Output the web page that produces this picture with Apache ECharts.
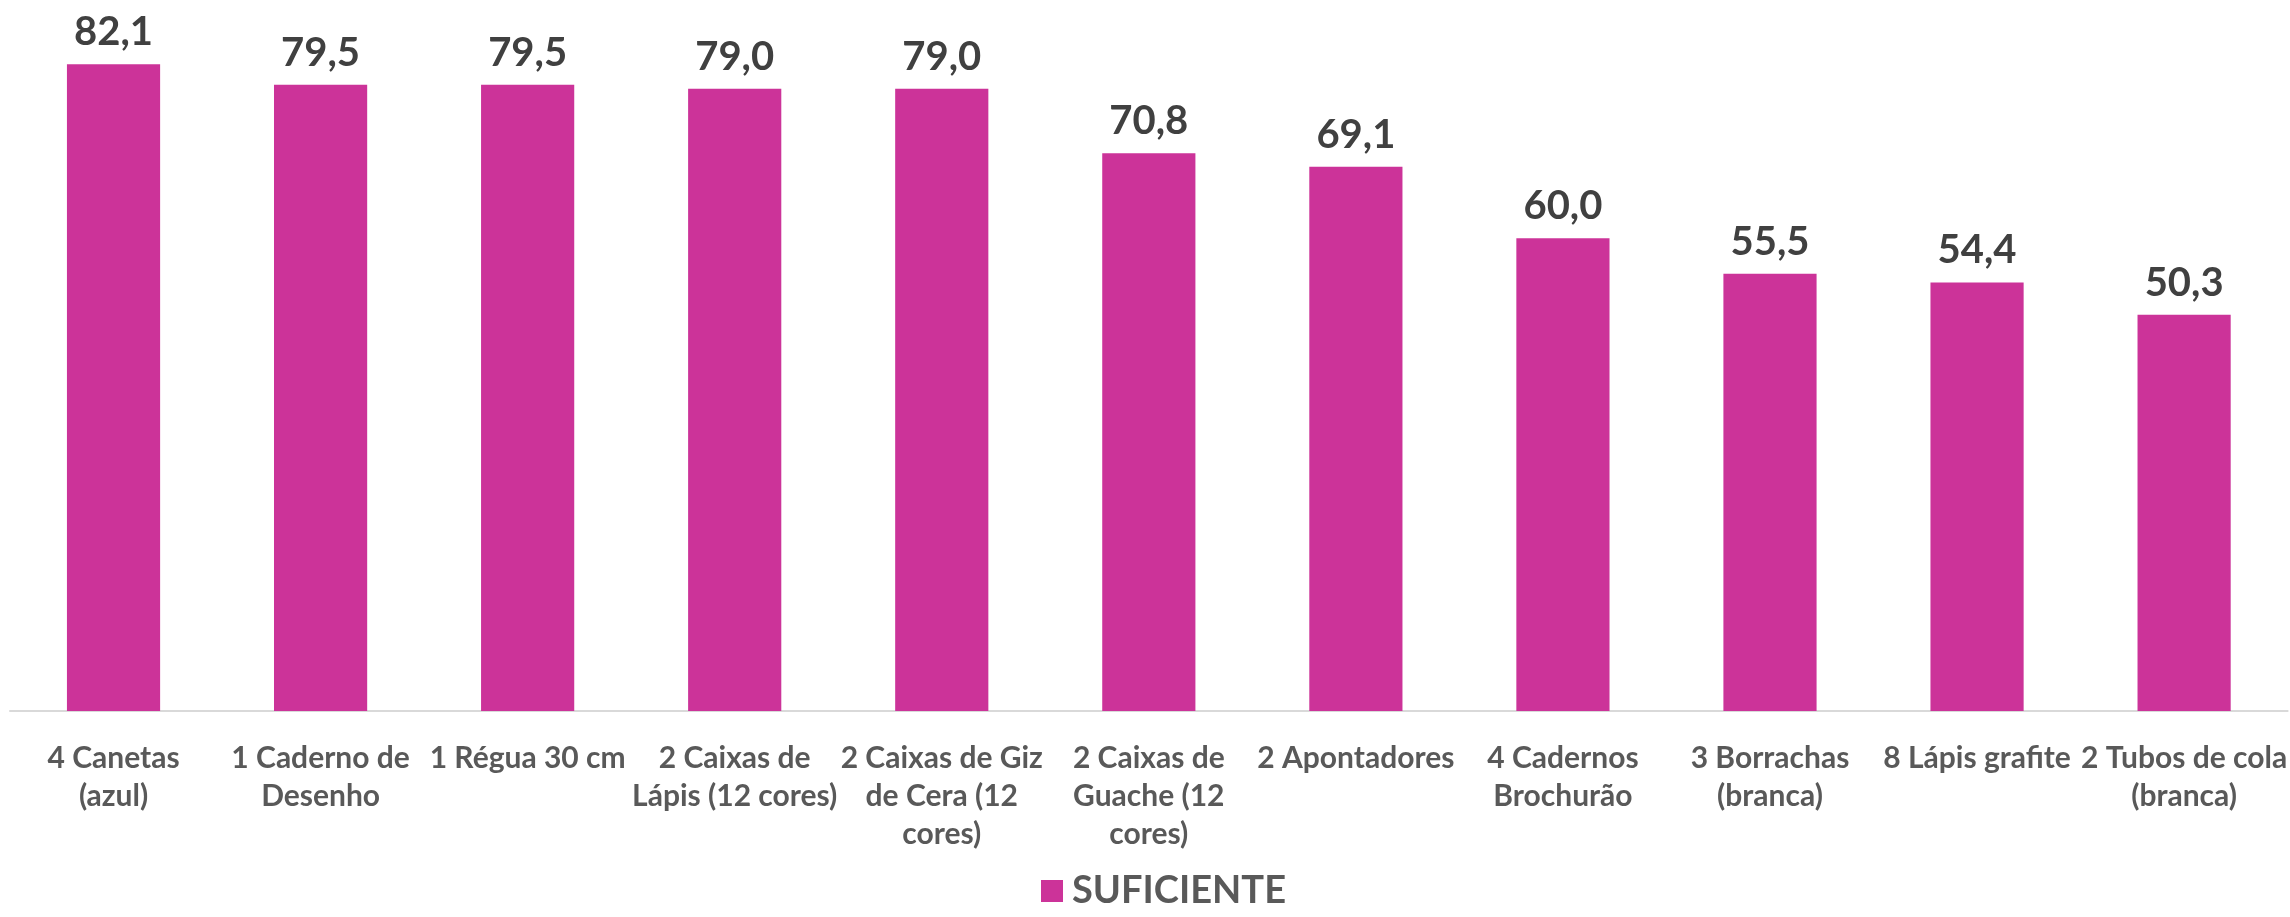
<!DOCTYPE html>
<html>
<head>
<meta charset="utf-8">
<script src="https://cdn.jsdelivr.net/npm/echarts@6/dist/echarts.min.js"></script>
<style>
  html, body { margin: 0; padding: 0; background: #fff; }
  #chart { width: 2290px; height: 917px; }
</style>
</head>
<body>
<div id="chart"></div>
<script>
var categories = [
  '4 Canetas\n(azul)',
  '1 Caderno de\nDesenho',
  '1 Régua 30 cm',
  '2 Caixas de\nLápis (12 cores)',
  '2 Caixas de Giz\nde Cera (12\ncores)',
  '2 Caixas de\nGuache (12\ncores)',
  '2 Apontadores',
  '4 Cadernos\nBrochurão',
  '3 Borrachas\n(branca)',
  '8 Lápis grafite',
  '2 Tubos de cola\n(branca)'
];
var suficiente = [82.1, 79.5, 79.5, 79.0, 79.0, 70.8, 69.1, 60.0, 55.5, 54.4, 50.3];

var chart = echarts.init(document.getElementById('chart'));

var option = {
  animation: false,
  color: ['#cc3399'],
  grid: {
    left: 10,
    right: 0,
    top: 2,
    bottom: 206,
    containLabel: false
  },
  legend: {
    bottom: 2,
    left: 1036,
    itemWidth: 22,
    itemHeight: 22,
    icon: 'rect',
    itemGap: 10,
    textStyle: {
      color: '#595959',
      fontSize: 38,
      fontWeight: 'bold',
      fontFamily: 'Lato',
      padding: [0, 0, 0, 4]
    },
    data: ['SUFICIENTE']
  },
  xAxis: {
    type: 'category',
    data: categories,
    axisLine: { show: true, lineStyle: { color: '#d9d9d9', width: 2 } },
    axisTick: { show: false },
    axisLabel: {
      interval: 0,
      margin: 28,
      color: '#595959',
      fontSize: 30,
      fontWeight: 'bold',
      fontFamily: 'Lato',
      lineHeight: 38,
      align: 'center'
    }
  },
  yAxis: {
    type: 'value',
    min: 0,
    max: 90,
    show: false,
    splitLine: { show: false }
  },
  series: [{
    name: 'SUFICIENTE',
    type: 'bar',
    data: suficiente,
    barCategoryGap: '55%',
    label: {
      show: true,
      position: 'top',
      distance: 12,
      color: '#404040',
      fontSize: 40,
      fontWeight: 'bold',
      fontFamily: 'Lato',
      formatter: function (p) {
        return p.value.toFixed(1).replace('.', ',');
      }
    }
  }]
};

chart.setOption(option);
</script>
</body>
</html>
